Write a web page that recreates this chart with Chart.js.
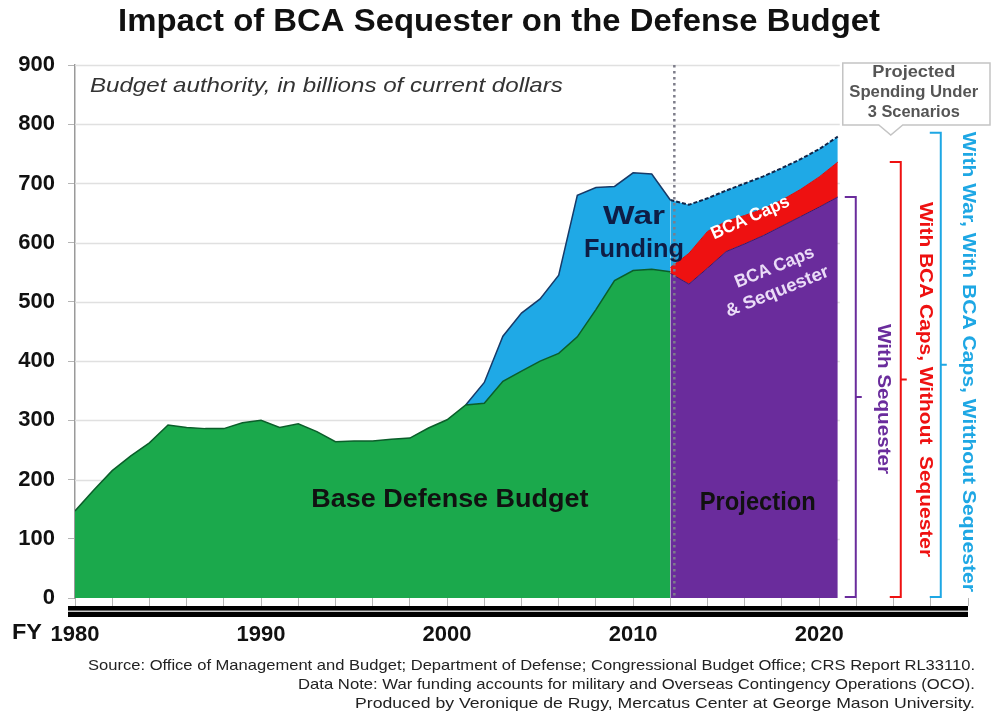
<!DOCTYPE html>
<html>
<head>
<meta charset="utf-8">
<script src="https://cdn.jsdelivr.net/npm/chart.js@4.4.1/dist/chart.umd.min.js"></script>
<style>
  html, body { margin: 0; padding: 0; background: #fff; }
  #wrap { width: 995px; height: 721px; }
</style>
</head>
<body>
<div id="wrap"><canvas id="budgetChart" width="995" height="721"></canvas></div>
<script>
// budget authority, billions of current dollars
const baseYears = [1980, 1981, 1982, 1983, 1984, 1985, 1986, 1987, 1988, 1989, 1990,
  1991, 1992, 1993, 1994, 1995, 1996, 1997, 1998, 1999, 2000,
  2001, 2002, 2003, 2004, 2005, 2006, 2007, 2008, 2009, 2010, 2011, 2012];
const baseValues = [147, 182, 215, 240, 262, 292, 288, 286, 286, 296, 300,
  288, 294, 281, 264, 265, 265, 268, 270, 287, 301,
  326, 329, 366, 383, 400, 413, 441, 487, 536, 553, 555, 551];

const warYears = [2001, 2002, 2003, 2004, 2005, 2006, 2007, 2008, 2009, 2010, 2011, 2012];
const warTotals = [326, 364, 442, 481, 505, 545, 680, 693, 695, 718, 716, 672];

const projYears = [2012, 2013, 2014, 2015, 2016, 2017, 2018, 2019, 2020, 2021];
const sequesterValues = [548, 530, 557, 585, 598, 612, 628, 644, 660, 677];
const capsValues = [558, 582, 619, 636, 646, 657, 672, 690, 711, 736];
const warProjTotals = [672, 664, 675, 688, 700, 712, 726, 741, 758, 779];

const yTicks = [0, 100, 200, 300, 400, 500, 600, 700, 800, 900];
const xLabelYears = [1980, 1990, 2000, 2010, 2020];

const FONT = "'Liberation Sans', Arial, Helvetica, sans-serif";
const NARROW = "'Liberation Sans Narrow', 'Arial Narrow', 'Liberation Sans', sans-serif";

const pts = (xs, ys) => xs.map((x, i) => ({ x, y: ys[i] }));

// text squeezed/stretched to the width it has in the picture
function label(ctx, text, x, y, o) {
  ctx.save();
  ctx.font = `${o.style || ''} ${o.weight || 'bold'} ${o.size}px ${o.family || FONT}`;
  const w = ctx.measureText(text).width;
  ctx.translate(x, y);
  if (o.rot) ctx.rotate(o.rot * Math.PI / 180);
  if (o.w) ctx.scale(o.w / w, 1);
  ctx.fillStyle = o.color || '#111';
  ctx.textAlign = o.align || 'center';
  ctx.textBaseline = 'middle';
  ctx.fillText(text, 0, 0);
  ctx.restore();
}

function bracket(ctx, x, yTop, yBot, color) {
  const mid = (yTop + yBot) / 2;
  ctx.save();
  ctx.strokeStyle = color;
  ctx.lineWidth = 2;
  ctx.beginPath();
  ctx.moveTo(x - 11, yTop);
  ctx.lineTo(x, yTop);
  ctx.lineTo(x, yBot);
  ctx.lineTo(x - 11, yBot);
  ctx.moveTo(x, mid);
  ctx.lineTo(x + 6, mid);
  ctx.stroke();
  ctx.restore();
}

const decor = {
  id: 'decor',
  beforeDatasetsDraw(chart) {
    const { ctx, chartArea: a, scales: { x, y } } = chart;
    const gx = x.getPixelForValue(projYears[projYears.length - 1]) + 2;
    ctx.save();
    ctx.strokeStyle = '#e0e0e0';
    ctx.lineWidth = 1.5;
    yTicks.slice(1).forEach(v => {
      const py = Math.round(y.getPixelForValue(v)) + 0.5;
      ctx.beginPath();
      ctx.moveTo(a.left, py);
      ctx.lineTo(gx, py);
      ctx.stroke();
    });
    ctx.restore();
  },
  afterDatasetsDraw(chart) {
    const { ctx, chartArea: a, scales: { x, y } } = chart;
    const split = x.getPixelForValue(projYears[0]);
    const endX = x.getPixelForValue(projYears[projYears.length - 1]);

    // dotted divider between history and projection
    ctx.save();
    ctx.strokeStyle = '#7d7d8a';
    ctx.lineWidth = 2.5;
    ctx.setLineDash([2.5, 3.5]);
    ctx.beginPath();
    ctx.moveTo(split + 4, y.getPixelForValue(900));
    ctx.lineTo(split + 4, a.bottom);
    ctx.stroke();
    ctx.restore();

    // heavy double rule under the x axis
    ctx.save();
    ctx.fillStyle = '#000';
    ctx.fillRect(a.left - 7, a.bottom + 8, a.right - a.left + 7, 11);
    ctx.fillStyle = '#c8c8c8';
    ctx.fillRect(a.left - 7, a.bottom + 12.5, a.right - a.left + 7, 1.5);
    ctx.restore();

    // area labels
    label(ctx, 'Budget authority, in billions of current dollars', x.getPixelForValue(1980.8), y.getPixelForValue(865),
      { style: 'italic', weight: 'normal', size: 21, w: 473, align: 'left', color: '#333' });
    label(ctx, 'War', x.getPixelForValue(2010.05), y.getPixelForValue(643), { size: 26, w: 62, color: '#0e1d45' });
    label(ctx, 'Funding', x.getPixelForValue(2010.05), y.getPixelForValue(588), { size: 26, w: 100, color: '#0e1d45' });
    label(ctx, 'Base Defense Budget', x.getPixelForValue(2000.15), y.getPixelForValue(165), { size: 25, w: 277 });
    label(ctx, 'Projection', x.getPixelForValue(2016.7), y.getPixelForValue(160), { size: 25, w: 116 });
    label(ctx, 'BCA Caps', x.getPixelForValue(2016.3), y.getPixelForValue(642), { size: 18, w: 84, rot: -24, color: '#fff' });
    label(ctx, 'BCA Caps', x.getPixelForValue(2017.6), y.getPixelForValue(558), { size: 18, w: 84, rot: -22, color: '#eadcf7' });
    label(ctx, '& Sequester', x.getPixelForValue(2017.75), y.getPixelForValue(517), { size: 18, w: 110, rot: -22, color: '#eadcf7' });

    // scenario brackets, from each series' last value down to zero
    const yBot = y.getPixelForValue(0) - 1;
    const sTop = y.getPixelForValue(sequesterValues[sequesterValues.length - 1]);
    const cTop = y.getPixelForValue(capsValues[capsValues.length - 1]);
    const wTop = y.getPixelForValue(warProjTotals[warProjTotals.length - 1]) - 4;
    bracket(ctx, endX + 18, sTop, yBot, '#6a2c9c');
    bracket(ctx, endX + 63, cTop, yBot, '#ee1111');
    bracket(ctx, endX + 103, wTop, yBot, '#1ea7e4');
    label(ctx, 'With Sequester', endX + 45, (sTop + yBot) / 2 + 2, { size: 18, w: 150, rot: 90, color: '#6a2c9c' });
    label(ctx, 'With BCA Caps, Without  Sequester', endX + 87, (cTop + yBot) / 2, { size: 18, w: 355, rot: 90, color: '#ee1111' });
    label(ctx, 'With War, With BCA Caps, Witthout Sequester', endX + 130, (wTop + yBot) / 2 - 3, { size: 18, w: 460, rot: 90, color: '#1ea7e4' });

    // callout box
    ctx.save();
    const bx0 = endX + 5, bx1 = 990, by0 = a.top - 2, by1 = a.top + 60, px = endX + 53;
    ctx.fillStyle = '#fff';
    ctx.strokeStyle = '#c4c4c4';
    ctx.lineWidth = 1.5;
    ctx.beginPath();
    ctx.moveTo(bx0, by0);
    ctx.lineTo(bx1, by0);
    ctx.lineTo(bx1, by1);
    ctx.lineTo(px + 12, by1);
    ctx.lineTo(px, by1 + 10);
    ctx.lineTo(px - 12, by1);
    ctx.lineTo(bx0, by1);
    ctx.closePath();
    ctx.fill();
    ctx.stroke();
    ctx.restore();
    const cx = endX + 76;
    label(ctx, 'Projected', cx, a.top + 8, { size: 16, w: 83, color: '#555' });
    label(ctx, 'Spending Under', cx, a.top + 28, { size: 16, w: 129, color: '#555' });
    label(ctx, '3 Scenarios', cx, a.top + 48, { size: 16, w: 92, color: '#555' });

    // title, axis prefix, notes
    label(ctx, 'Impact of BCA Sequester on the Defense Budget', 499, 22, { size: 32, w: 762, color: '#111' });
    label(ctx, 'FY', 27, a.bottom + 35, { size: 22, w: 30 });
    const notes = [
      ['Source: Office of Management and Budget; Department of Defense; Congressional Budget Office; CRS Report RL33110.', 887],
      ['Data Note: War funding accounts for military and Overseas Contingency Operations (OCO).', 677],
      ['Produced by Veronique de Rugy, Mercatus Center at George Mason University.', 620]
    ];
    notes.forEach((n, i) => label(ctx, n[0], 975, 666 + i * 19,
      { size: 15, w: n[1], weight: 'normal', family: NARROW, align: 'right', color: '#222' }));
  }
};

Chart.defaults.font.family = FONT;

new Chart(document.getElementById('budgetChart'), {
  type: 'line',
  data: {
    datasets: [
      {
        label: 'Base Defense Budget',
        data: pts(baseYears, baseValues),
        fill: 'origin',
        backgroundColor: '#1ba94c',
        borderColor: '#0b5e2a',
        borderWidth: 1.5
      },
      {
        label: 'War Funding',
        data: pts(warYears, warTotals),
        fill: 0,
        backgroundColor: '#1fa9e6',
        borderColor: '#173a68',
        borderWidth: 1.5
      },
      {
        label: 'BCA Caps & Sequester',
        data: pts(projYears, sequesterValues),
        fill: 'origin',
        backgroundColor: '#6a2c9c',
        borderColor: '#3e1766',
        borderWidth: 1
      },
      {
        label: 'BCA Caps',
        data: pts(projYears, capsValues),
        fill: 2,
        backgroundColor: '#ee1111',
        borderColor: '#d40d0d',
        borderWidth: 1
      },
      {
        label: 'War (projected)',
        data: pts(projYears, warProjTotals),
        fill: 3,
        backgroundColor: '#1fa9e6',
        borderColor: '#10264a',
        borderWidth: 2,
        borderDash: [4, 2]
      }
    ]
  },
  options: {
    responsive: false,
    devicePixelRatio: 1,
    animation: false,
    layout: { padding: { left: 0, right: 27, top: 65, bottom: 78 } },
    elements: { point: { radius: 0 }, line: { tension: 0 } },
    plugins: { legend: { display: false }, tooltip: { enabled: false } },
    scales: {
      x: {
        type: 'linear',
        min: 1980,
        max: 2028,
        afterFit: s => { s.height = 45; },
        border: { display: false },
        grid: { drawOnChartArea: false, drawTicks: true, tickLength: 8, tickColor: '#b5b5b5', tickWidth: 1 },
        ticks: {
          stepSize: 2,
          autoSkip: false,
          maxRotation: 0,
          padding: 16,
          color: '#111',
          font: { size: 22, weight: 'bold' },
          callback: v => (xLabelYears.includes(v) ? String(v) : '')
        }
      },
      y: {
        min: 0,
        max: 900,
        afterFit: s => { s.width = 75; },
        border: { display: true, color: '#9a9a9a', width: 1.5 },
        grid: { drawOnChartArea: false, drawTicks: true, tickLength: 7, tickColor: '#b5b5b5' },
        ticks: {
          stepSize: 100,
          padding: 13,
          color: '#111',
          font: { size: 22, weight: 'bold' }
        }
      }
    }
  },
  plugins: [decor]
});
</script>
</body>
</html>
